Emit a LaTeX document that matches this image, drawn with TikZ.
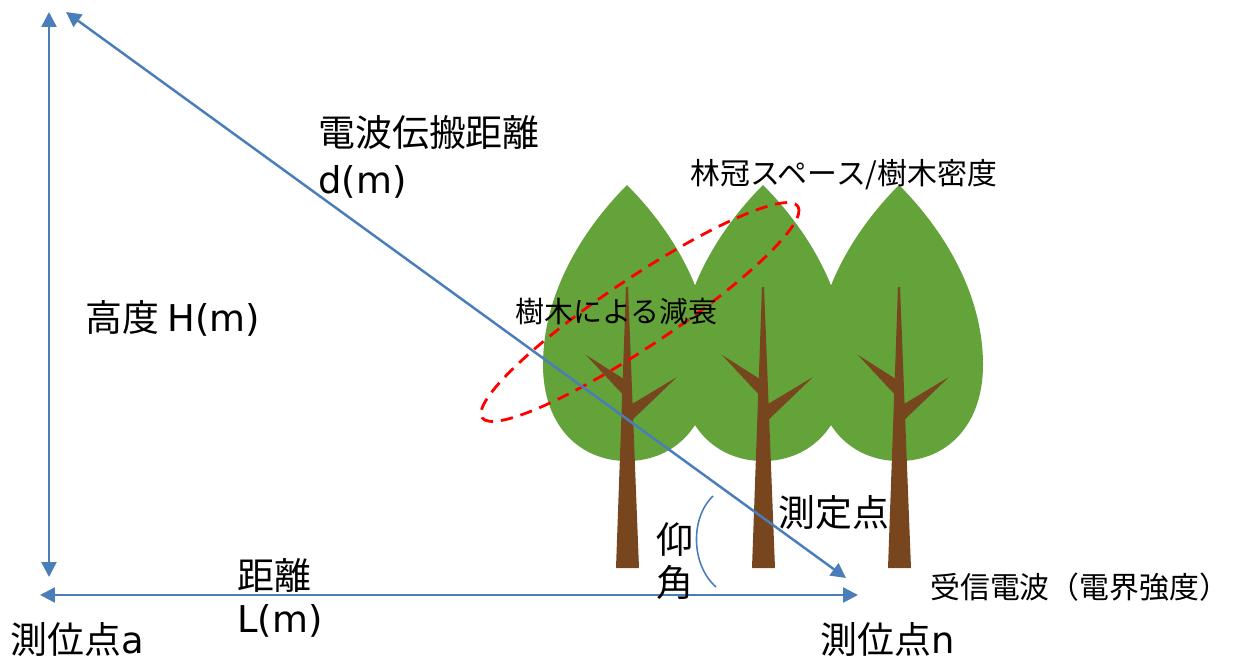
\documentclass[tikz,border=0pt]{standalone}
\usepackage{fontspec}
\setmainfont{Noto Sans CJK JP}
\newfontfamily\latin{DejaVu Sans}
\usetikzlibrary{arrows.meta,positioning}

\definecolor{wave}{RGB}{74,126,187}
\definecolor{leaf}{RGB}{99,163,57}
\definecolor{bark}{RGB}{120,70,30}

\begin{document}
\begin{tikzpicture}[x=0.02cm, y=-0.02cm,
    big/.style={font=\fontsize{21}{26}\selectfont, inner sep=0pt},
    small/.style={font=\fontsize{17}{20}\selectfont, inner sep=0pt},
    ray/.style={draw=wave, line width=1.4pt, {Triangle[length=8.5pt,width=8.5pt]}-{Triangle[length=8.5pt,width=8.5pt]}},
    leafcrown/.pic={
      \fill[leaf] (0,0) .. controls (35,35) and (84,100) .. (84,180)
        .. controls (84,240) and (48,276) .. (0,276)
        .. controls (-48,276) and (-84,240) .. (-84,180)
        .. controls (-84,100) and (-35,35) .. (0,0) -- cycle;
    },
    treetrunk/.pic={
      \fill[bark] (-1,102) -- (1,102) -- (12,383) -- (-11,383) -- cycle;
      \fill[bark] (-41,170) -- (0,196) -- (0,214) -- cycle;
      \fill[bark] (50,192) -- (0,222) -- (0,240) -- cycle;
    }]
  \useasboundingbox (0,0) rectangle (1234,663);

  % trees: all crowns first, then trunks on top
  \foreach \cx in {627,763,899}
    \pic at (\cx,185) {leafcrown};
  \foreach \cx in {627,763,899}
    \pic at (\cx,185) {treetrunk};

  % canopy space
  \draw[red, line width=1.6pt, dash pattern=on 7pt off 4.5pt,
        rotate around={33.8:(640,312)}]
    (640,312) ellipse [x radius=190, y radius=34];

  \coordinate (hTop) at (49,12);
  \coordinate (hBot) at (49,577);
  \coordinate (lLeft) at (40,595);
  \coordinate (lRight) at (858,595);
  \coordinate (dTop) at (66,12);
  \coordinate (dEnd) at (846,578);
  \coordinate (arcA) at (713,496);
  \coordinate (arcB) at (716,587);

  \draw[ray] (hTop) -- (hBot);
  \draw[ray] (lLeft) -- (lRight);
  \draw[ray] (dTop) -- (dEnd);
  \draw[wave, line width=0.9pt] (arcA) .. controls (690,518) and (691,565) .. (arcB);

  % labels
  \node[big, anchor=west, align=left, font=\fontsize{21}{26.5}\selectfont] (wlen) at (318,157) {電波伝搬距離\\{\latin d(m)}};
  \node[small, anchor=west] (canopy) at (690,175) {林冠スペース/樹木密度};
  \node[small, anchor=west, font=\fontsize{16.5}{20}\selectfont] (atten) at (515,312) {樹木による減衰};
  \node[big, anchor=west] (height) at (85,318) {高度 {\latin H(m)}};
  \node[big, anchor=west, align=left, font=\fontsize{21}{24.5}\selectfont] (dist) at (237,598) {距離\\{\latin L(m)}};
  \node[big, align=center, font=\fontsize{21}{24.5}\selectfont] (elev) at (675,561) {仰\\角};
  \node[big, anchor=west] (meas) at (778,513) {測定点};
  \node[small, anchor=west] (recv) at (930,587) {受信電波（電界強度）};
  \node[big, anchor=west] (posA) at (10,640) {測位点{\latin a}};
  \node[big, anchor=west] (posN) at (820,640) {測位点{\latin n}};
\end{tikzpicture}
\end{document}
